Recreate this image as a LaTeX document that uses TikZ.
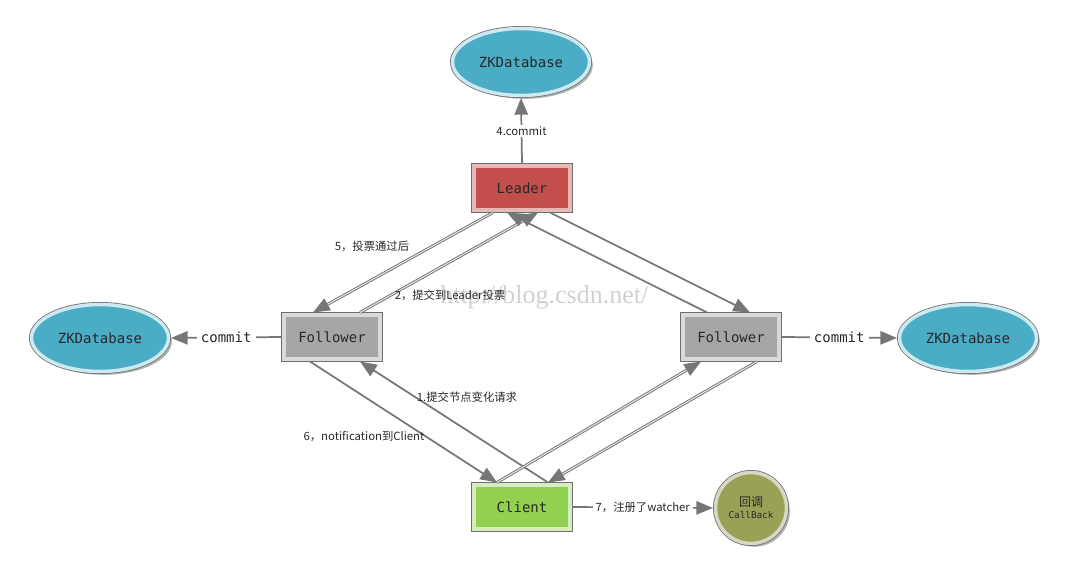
\documentclass[tikz,border=0pt]{standalone}
\usepackage{fontspec}
\usetikzlibrary{calc,arrows.meta,shapes.geometric,shadows}
\newfontfamily\cjk{Noto Sans CJK SC}
\newfontfamily\mono{DejaVu Sans Mono}
\newfontfamily\wmfont{Liberation Serif}
\definecolor{zkblue}{RGB}{75,172,198}
\definecolor{zkband}{RGB}{205,233,241}
\definecolor{leaderred}{RGB}{194,79,75}
\definecolor{leaderband}{RGB}{232,184,182}
\definecolor{followergray}{RGB}{166,166,166}
\definecolor{followerband}{RGB}{218,218,218}
\definecolor{clientgreen}{RGB}{146,208,80}
\definecolor{clientband}{RGB}{214,238,190}
\definecolor{cbolive}{RGB}{154,160,86}
\definecolor{cbband}{RGB}{214,216,196}
\definecolor{edgegray}{RGB}{112,112,112}
\definecolor{linegray}{RGB}{118,118,118}
\definecolor{textdark}{RGB}{40,40,40}
\tikzset{
	rolebox/.style 2 args={rectangle, inner sep=0pt, outer sep=1.9pt, minimum width=72pt, minimum height=33pt,
		drop shadow={shadow xshift=2.5pt, shadow yshift=-2.5pt, opacity=.3, fill=black},
		preaction={draw=edgegray, line width=3.8pt}, fill=#1, draw=#2, line width=2.6pt,
		font={\mono\fontsize{10.5}{12}\selectfont}, text=textdark},
	zkcloud/.style={ellipse, inner sep=0pt, outer sep=1.9pt, minimum width=102.7pt, minimum height=50.2pt,
		drop shadow={shadow xshift=2.5pt, shadow yshift=-2.5pt, opacity=.3, fill=black},
		preaction={draw=edgegray, line width=3.8pt}, fill=zkblue, draw=zkband, line width=2.6pt,
		font={\mono\fontsize{10.5}{12}\selectfont}, text=textdark},
	cbcircle/.style={circle, inner sep=0pt, outer sep=1.9pt, minimum size=53.2pt, align=center,
		drop shadow={shadow xshift=2.5pt, shadow yshift=-2.5pt, opacity=.3, fill=black},
		preaction={draw=edgegray, line width=3.8pt}, fill=cbolive, draw=cbband, line width=2.6pt,
		font={\mono\fontsize{7}{9}\selectfont}, text=textdark},
	arrline/.style={draw=linegray, line width=1.3pt, -{Triangle[length=12.5pt, width=10pt]}},
	dblline/.style={draw=linegray, line width=0.7pt, double=white!80!linegray, double distance=0.8pt,
		-{Triangle[length=12.5pt, width=10pt]}},
	lbl/.style={font={\cjk\fontsize{8.5}{10}\selectfont}, text=textdark, inner sep=1pt},
	biglbl/.style={font={\mono\fontsize{10.5}{12}\selectfont}, text=textdark, inner sep=3pt, fill=white},
	wmark/.style={font={\wmfont\fontsize{19.5}{22}\selectfont}, text=black!18, inner sep=0pt, anchor=base west}
}

\begin{document}
\begin{tikzpicture}[x=0.75pt,y=-0.75pt]
	%%%%% START %%%%%
	\useasboundingbox (0,0) rectangle (1073,570);
	\node[wmark] (url) at (440,303) {http://blog.csdn.net/};
	
	\node[zkcloud] (zkTop) at (521,62) {ZKDatabase};
	\node[zkcloud] (zkLeft) at (100,338) {ZKDatabase};
	\node[zkcloud] (zkRight) at (968,338) {ZKDatabase};
	
	\node[rolebox={leaderred}{leaderband}] (leader) at (522,188) {Leader};
	\node[rolebox={followergray}{followerband}] (followerL) at (332,337) {Follower};
	\node[rolebox={followergray}{followerband}] (followerR) at (731,337) {Follower};
	\node[rolebox={clientgreen}{clientband}] (client) at (522,507) {Client};
	\node[cbcircle] (callback) at (751,508) {{\cjk\fontsize{9}{10}\selectfont 回调}\\CallBack};
	
	\draw[arrline] (leader.north) -- node[lbl, fill=white] (lblTopCommit) {4.commit} (zkTop.south);
	\draw[arrline] (followerL.west) -- node[biglbl] (lblLeftCommit) {commit} (zkLeft.east);
	\draw[arrline] (followerR.east) -- node[biglbl] (lblRightCommit) {commit} (zkRight.west);
	\draw[arrline] (client.east) -- node[lbl, fill=white, inner sep=2pt] (lblWatcher) {7，注册了watcher} (callback.west);
	
	\draw[dblline] ($(leader.south)+(-29,0)$) -- ($(followerL.north)+(-19,0)$);
	\draw[dblline] ($(followerL.north)+(28,0)$) -- ($(leader.south)+(16,0)$);
	\draw[arrline] ($(followerR.north)+(-24,0)$) -- ($(leader.south)+(-15,0)$);
	\draw[arrline] ($(leader.south)+(28,0)$) -- ($(followerR.north)+(19,0)$);
	
	\draw[arrline] ($(client.north)+(26,0)$) -- ($(followerL.south)+(28,0)$);
	\draw[arrline] ($(followerL.south)+(-22,0)$) -- ($(client.north)+(-25,0)$);
	\draw[dblline] ($(client.north)+(-25,0)$) -- ($(followerR.south)+(-30,0)$);
	\draw[dblline] ($(followerR.south)+(26,0)$) -- ($(client.north)+(26,0)$);
	
	\node[lbl] (lblVote) at (372,246) {5，投票通过后};
	\node[lbl] (lblSubmit) at (450,295) {2，提交到Leader投票};
	\node[lbl] (lblRequest) at (467,397) {1.提交节点变化请求};
	\node[lbl] (lblNotify) at (364,436) {6，notification到Client};
	%%%%% END %%%%%
\end{tikzpicture}
\end{document}
